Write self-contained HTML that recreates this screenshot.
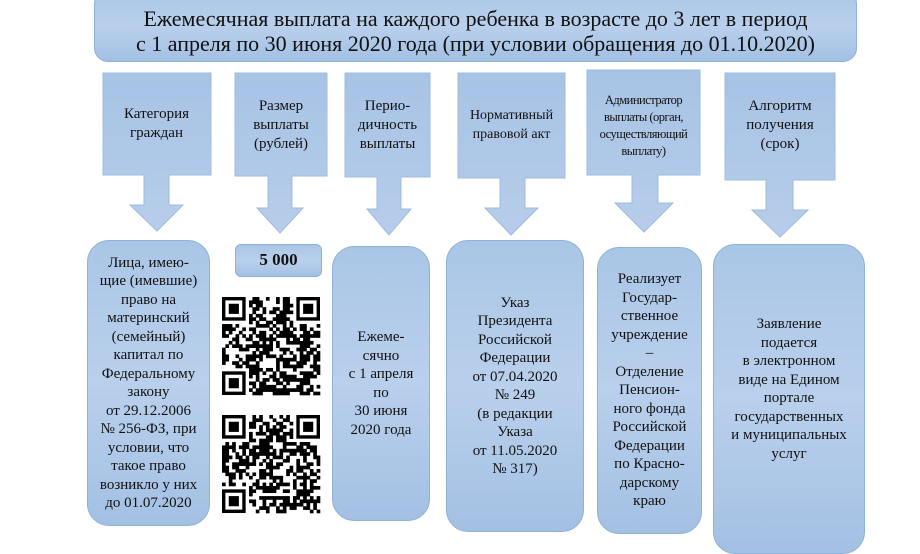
<!DOCTYPE html>
<html><head><meta charset="utf-8"><style>
body{margin:0;width:920px;height:540px;background:#fff;position:relative;overflow:hidden;font-family:"Liberation Serif",serif;color:#111}
.b{position:absolute;background:linear-gradient(#aac6e6,#b9d0ec 50%,#a3c0e3);border:1px solid #8fb1d9;box-sizing:border-box;border-radius:22px;display:flex;align-items:center;justify-content:center;text-align:center;font-size:15px;line-height:18.5px}
.t{position:absolute;font-size:15px;line-height:19px;text-align:center}
svg{position:absolute;left:0;top:0}
</style></head><body>
<svg width="920" height="540">
<defs><linearGradient id="g" x1="0" y1="0" x2="0" y2="1"><stop offset="0" stop-color="#a7c3e5"/><stop offset="1" stop-color="#b7cdea"/></linearGradient></defs>
<g fill="url(#g)" stroke="#9dbbe0" stroke-width="1">
<polygon points="103,73 211,73 211,175 169,175 169,205 183,205 157,231 130,205 144,205 144,175 103,175"/>
<polygon points="235,73 327,73 327,176 292,176 292,208 303,208 280,233 257,208 268,208 268,176 235,176"/>
<polygon points="345,73 430,73 430,177 401,177 401,209 411,209 389,235 367,209 377,209 377,177 345,177"/>
<polygon points="458,73 565,73 565,178 525,178 525,208 538,208 511,235 485,208 500,208 500,178 458,178"/>
<polygon points="587,70 700,70 700,175 658,175 658,203 673,203 644,232 615,203 632,203 632,175 587,175"/>
<polygon points="725,73 835,73 835,180 793,180 793,210 808,210 780,237 752,210 766,210 766,180 725,180"/>
</g>
<g id="qr1" transform="translate(222,297)"></g>
<g id="qr2" transform="translate(222,415)"></g>
</svg>
<div class="b" style="left:94px;top:-10px;width:763px;height:72px;border-radius:14px;padding-top:10px;font-size:22px;line-height:25px"><div style="white-space:nowrap">Ежемесячная выплата на каждого ребенка в возрасте до 3 лет в период<br>с 1 апреля по 30 июня 2020 года (при условии обращения до 01.10.2020)</div></div>
<div class="t" style="left:103px;top:105px;width:107px">Категория<br>граждан</div>
<div class="t" style="left:235px;top:97px;width:92px">Размер<br>выплаты<br>(рублей)</div>
<div class="t" style="left:345px;top:97px;width:85px">Перио-<br>дичность<br>выплаты</div>
<div class="t" style="left:458px;top:106px;width:107px;font-size:14px">Нормативный<br>правовой акт</div>
<div class="t" style="left:587px;top:92px;width:113px;font-size:12.5px;line-height:17px;letter-spacing:-0.5px">Администратор<br>выплаты (орган,<br>осуществляющий<br>выплату)</div>
<div class="t" style="left:725px;top:97px;width:110px">Алгоритм<br>получения<br>(срок)</div>
<div class="b" style="left:87px;top:240px;width:123px;height:286px">Лица, имею-<br>щие (имевшие)<br>право на<br>материнский<br>(семейный)<br>капитал по<br>Федеральному<br>закону<br>от 29.12.2006<br>№ 256-ФЗ, при<br>условии, что<br>такое право<br>возникло у них<br>до 01.07.2020</div>
<div class="b" style="left:235px;top:244px;width:87px;height:33px;border-radius:6px;font-weight:bold;font-size:17px">5 000</div>
<div class="b" style="left:332px;top:246px;width:98px;height:275px">Ежеме-<br>сячно<br>с 1 апреля<br>по<br>30 июня<br>2020 года</div>
<div class="b" style="left:446px;top:240px;width:138px;height:292px">Указ<br>Президента<br>Российской<br>Федерации<br>от 07.04.2020<br>№ 249<br>(в редакции<br>Указа<br>от 11.05.2020<br>№ 317)</div>
<div class="b" style="left:597px;top:247px;width:105px;height:287px">Реализует<br>Государ-<br>ственное<br>учреждение<br>–<br>Отделение<br>Пенсион-<br>ного фонда<br>Российской<br>Федерации<br>по Красно-<br>дарскому<br>краю</div>
<div class="b" style="left:713px;top:244px;width:152px;height:310px;padding-bottom:20px">Заявление<br>подается<br>в электронном<br>виде на Едином<br>портале<br>государственных<br>и муниципальных<br>услуг</div>
<script>
function qr(id,seed){var g=document.getElementById(id),n=29,s=98/n,h='';var r=seed;function rnd(){r=(r*1103515245+12345)%2147483648;return r/2147483648;}
h+='<rect width="98" height="98" fill="#fff"/>';
function fin(x,y){h+='<rect x="'+(x*s)+'" y="'+(y*s)+'" width="'+(7*s)+'" height="'+(7*s)+'" fill="#000"/><rect x="'+((x+1)*s)+'" y="'+((y+1)*s)+'" width="'+(5*s)+'" height="'+(5*s)+'" fill="#fff"/><rect x="'+((x+2)*s)+'" y="'+((y+2)*s)+'" width="'+(3*s)+'" height="'+(3*s)+'" fill="#000"/>';}
for(var y=0;y<n;y++)for(var x=0;x<n;x++){if((x<8&&y<8)||(x>n-9&&y<8)||(x<8&&y>n-9))continue;if(rnd()<0.55)h+='<rect x="'+(x*s)+'" y="'+(y*s)+'" width="'+(s+.3)+'" height="'+(s+.3)+'" fill="#000"/>';}
fin(0,0);fin(n-7,0);fin(0,n-7);g.innerHTML=h;}
qr('qr1',7);qr('qr2',99);
</script>
</body></html>
